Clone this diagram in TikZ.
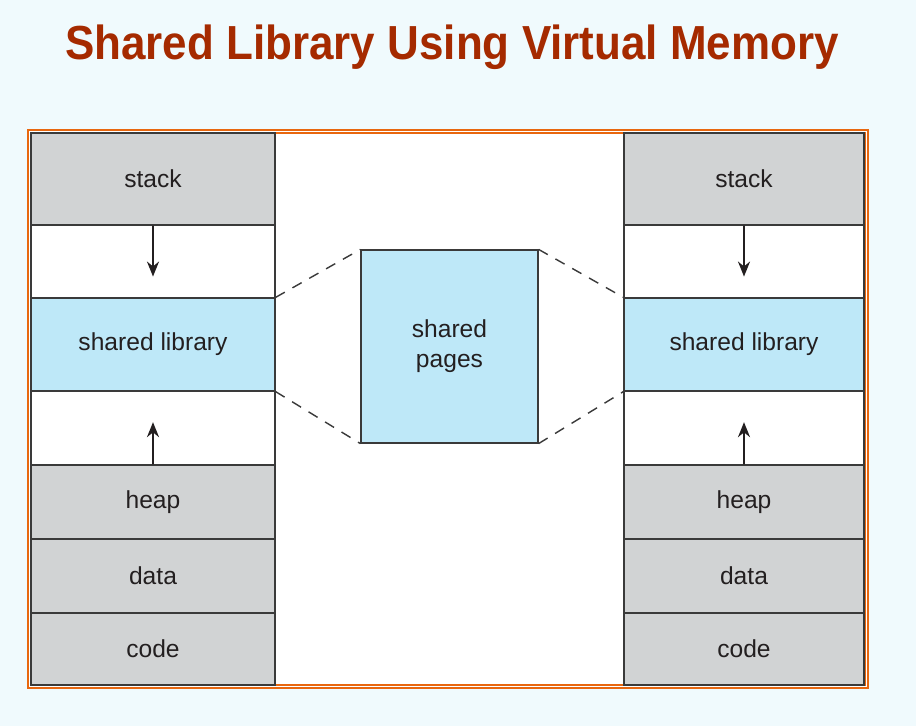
\documentclass[tikz,border=0pt]{standalone}
\usepackage{fontspec}
\setmainfont{Liberation Sans}
\usetikzlibrary{arrows.meta,positioning,calc}
\definecolor{bgcol}{HTML}{F0FAFD}
\definecolor{titlec}{HTML}{A52A00}
\definecolor{framec}{HTML}{E8670F}
\definecolor{segc}{HTML}{D1D3D4}
\definecolor{libc}{HTML}{BEE8F8}
\definecolor{inkc}{HTML}{231F20}
\definecolor{linec}{HTML}{3A3A3A}
\tikzset{
  cell/.style={draw=linec, line width=0.7pt, fill=#1, inner sep=0pt, text=inkc, font=\fontsize{14}{17}\selectfont, align=center},
  link/.style={draw=linec, line width=0.8pt, dash pattern=on 6pt off 5pt},
  growarrow/.style={-{Stealth[length=3mm,width=2.4mm]}, line width=1.1pt, draw=inkc},
}

\begin{document}
\begin{tikzpicture}[x=0.02cm, y=-0.02cm]
  \fill[bgcol] (0,0) rectangle (916,726);
  \useasboundingbox (0,0) rectangle (916,726);
  \node[font=\fontsize{27.2}{30}\selectfont\bfseries, text=titlec, xscale=0.92] (title) at (452,47) {Shared Library Using Virtual Memory};
  % frame
  \draw[framec, line width=1.1pt, fill=white] (28,130) rectangle (868,688);
  \draw[framec, line width=0.6pt] (31,133) rectangle (865,685);
  % the two address spaces
  \foreach \c/\xl/\w in {l/31/244, r/624/240} {
    \foreach \n/\t/\b/\f/\txt in {
        stack/133/225/segc/stack,
        gapa/225/298/white/{},
        lib/298/391/libc/shared library,
        gapb/391/465/white/{},
        heap/465/539/segc/heap,
        data/539/613/segc/data,
        code/613/685/segc/code} {
      \node[cell=\f, minimum width={\w*0.02cm}, minimum height={(\b-\t)*0.02cm}] (\c\n) at ({\xl+\w/2},{(\t+\b)/2}) {\txt};
    }
    \draw[growarrow] (\c stack.south) -- ($(\c stack.south)!0.71!(\c lib.north)$);
    \draw[growarrow] (\c heap.north) -- ($(\c heap.north)!0.58!(\c lib.south)$);
  }
  % shared pages in physical memory
  \node[cell=libc, minimum width=3.54cm, minimum height=3.86cm] (pages) at (449.5,346.5) {shared\\pages};
  \draw[link] (llib.north east) -- (pages.north west);
  \draw[link] (llib.south east) -- (pages.south west);
  \draw[link] (pages.north east) -- (rlib.north west);
  \draw[link] (pages.south east) -- (rlib.south west);
\end{tikzpicture}
\end{document}
